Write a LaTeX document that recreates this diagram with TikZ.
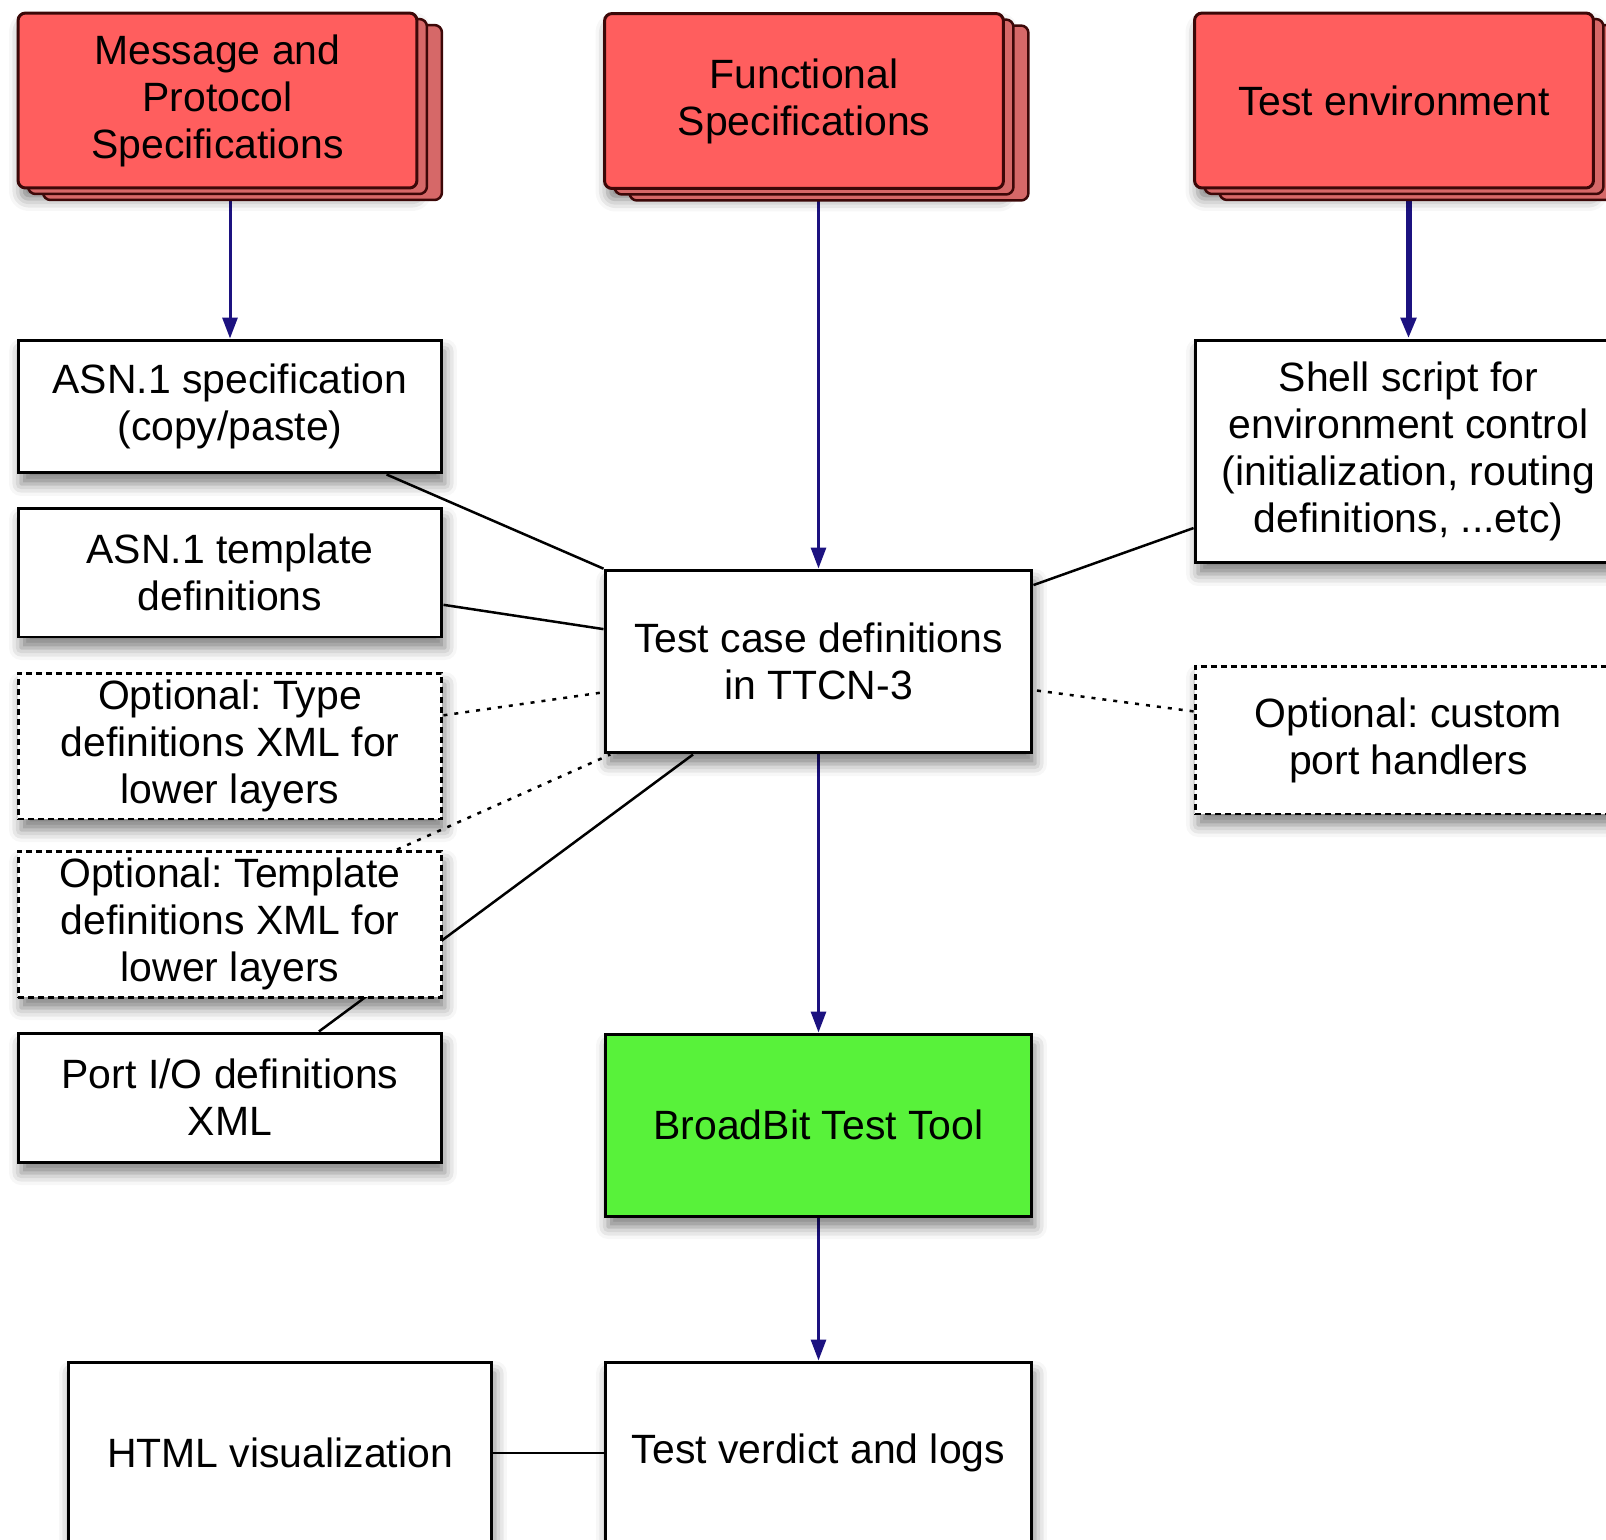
\documentclass[tikz,border=0pt]{standalone}
\usepackage{fontspec}
\setmainfont{Liberation Sans}
\usetikzlibrary{arrows.meta, shadows, shadows.blur, backgrounds}
\frenchspacing

\definecolor{redfill}{RGB}{255,94,94}
\definecolor{redback}{RGB}{214,104,104}
\definecolor{redline}{RGB}{60,8,8}
\definecolor{toolgreen}{RGB}{88,242,58}
\definecolor{arrowblue}{RGB}{28,18,128}

\tikzset{
    softshadow/.style = {blur shadow = {shadow xshift = 0.06cm, shadow yshift = -0.22cm,
        shadow blur radius = 0.24cm, shadow opacity = 50}},
    src/.style = {softshadow,
        general shadow = {shadow xshift = 0.5cm, shadow yshift = -0.24cm,
            draw = redline, fill = redback, line width = 0.05cm},
        general shadow = {shadow xshift = 0.2cm, shadow yshift = -0.12cm,
            draw = redline, fill = redback, line width = 0.05cm},
        draw = redline, line width = 0.06cm, fill = redfill, rounded corners = 0.15cm,
        minimum width = 7.98cm, minimum height = 3.5cm},
    doc/.style = {softshadow, draw, line width = 0.06cm, fill = white, minimum width = 8.48cm},
    opt/.style = {doc, dash pattern = on 0.12cm off 0.08cm},
    flow/.style = {draw = arrowblue, line width = 0.06cm, -{Triangle[length = 0.42cm, width = 0.3cm]}},
    link/.style = {draw, line width = 0.05cm},
    hint/.style = {link, dash pattern = on 0.08cm off 0.14cm}
}

\begin{document}
\begin{tikzpicture}[x = 0.02cm, y = -0.02cm,
    font = \fontsize{23.3}{26.7}\selectfont,
    every node/.style = {align = center}]
    \useasboundingbox (0,0) rectangle (1606,1539);

    % sources
    \node[src] (mp) at (217.5,100.5) {Message and\\Protocol\\Specifications};
    \node[src] (func) at (804,101) {Functional\\Specifications};
    \node[src] (env) at (1394,100.5) {Test environment};

    % left column
    \node[doc, minimum height = 2.66cm] (asnspec) at (230,406.5) {ASN.1 specification\\(copy/paste)};
    \node[doc, minimum height = 2.58cm] (asntpl) at (230,572.5) {ASN.1 template\\definitions};
    \node[opt, minimum height = 2.92cm] (opttype) at (230,746) {Optional: Type\\definitions XML for\\lower layers};
    \node[opt, minimum height = 2.92cm] (opttpl) at (230,924) {Optional: Template\\definitions XML for\\lower layers};
    \node[doc, minimum height = 2.58cm] (portio) at (230,1097.5) {Port I/O definitions\\XML};

    % middle column
    \node[doc, minimum width = 8.54cm, minimum height = 3.66cm] (ttcn) at (818.5,661.5) {Test case definitions\\in TTCN-3};
    \node[doc, fill = toolgreen, minimum width = 8.54cm, minimum height = 3.64cm] (tool) at (818.5,1125) {BroadBit Test Tool};
    \node[doc, minimum width = 8.54cm, minimum height = 3.64cm] (verdict) at (818.5,1453) {Test verdict and logs};
    \node[doc, minimum height = 3.64cm] (html) at (280,1453) {HTML visualization};

    % right column
    \node[doc, minimum width = 8.54cm, minimum height = 4.46cm] (shell) at (1408.5,451.5) {Shell script for\\environment control\\(initialization, routing\\definitions, ...etc)};
    \node[opt, minimum width = 8.54cm, minimum height = 2.96cm] (optport) at (1408.5,740) {Optional: custom\\port handlers};

    \begin{scope}[on background layer]
        \draw[flow] (mp.south -| asnspec.north) -- (asnspec.north);
        \draw[flow] (func.south -| ttcn.north) -- (ttcn.north);
        \draw[flow, line width = 0.12cm] (env.south -| shell.north) -- (shell.north);
        \draw[flow] (ttcn.south) -- (tool.north);
        \draw[flow] (tool.south) -- (verdict.north);

        % centre to centre, the boxes hide the ends
        \draw[link] (asnspec) -- (ttcn);
        \draw[link] (asntpl) -- (ttcn);
        \draw[hint] (opttype) -- (ttcn);
        \draw[hint] (opttpl) -- (ttcn);
        \draw[link] (portio) -- (ttcn);
        \draw[link] (shell) -- (ttcn);
        \draw[hint] (optport) -- (ttcn);
        \draw[link] (html) -- (verdict);
    \end{scope}
\end{tikzpicture}
\end{document}
